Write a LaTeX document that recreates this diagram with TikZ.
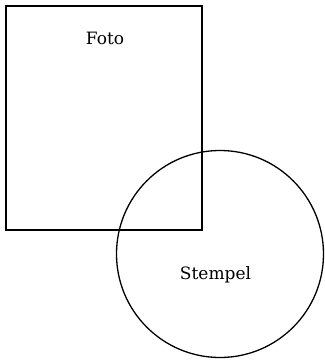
\documentclass[tikz,border=0pt]{standalone}
\usepackage{fontspec}
\setmainfont{DejaVu Serif}
\begin{document}
\begin{tikzpicture}[x=1pt,y=-1pt,
  shapeline/.style={draw=black,line width=1.6pt,inner sep=0pt,outer sep=0pt},
  lbl/.style={font=\fontsize{17}{20}\selectfont,inner sep=0pt}]
\useasboundingbox (0,0) rectangle (325,360);
\node[shapeline,rectangle,minimum width=196pt,minimum height=224pt] (foto) at (104,118) {};
\node[shapeline,line width=1.3pt,circle,minimum size=207pt] (stempel) at (220,254) {};
\node[lbl] (fototext) at (105,38.5) {Foto};
\node[lbl] (stempeltext) at (215.5,275) {Stempel};
\end{tikzpicture}
\end{document}
